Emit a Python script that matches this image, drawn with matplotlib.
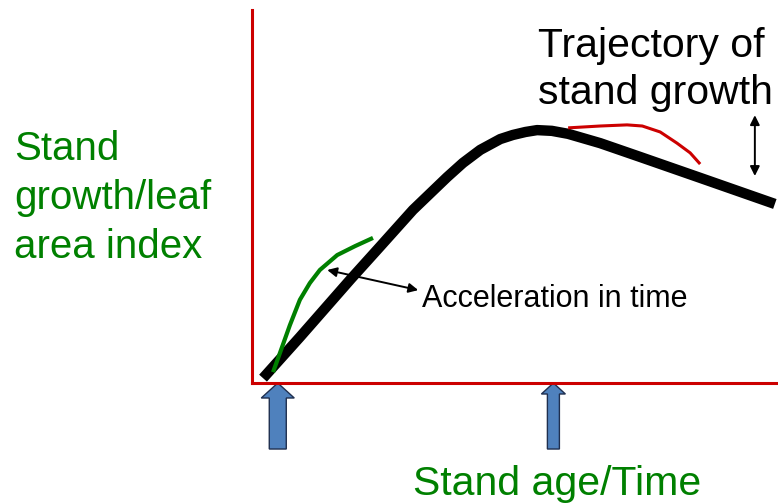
import numpy as np
import matplotlib
matplotlib.use("Agg")
import matplotlib.pyplot as plt
from matplotlib.patches import FancyArrow

plt.rcParams['font.family'] = ['Liberation Sans', 'DejaVu Sans']

# trajectory of stand growth (time, growth), axes run 0..100
growth_t = [2.1, 9.1, 18.8, 24.3, 30.6, 37.1, 40.1, 43.4, 47.2, 49.6, 52.0, 54.2, 57.0,
            60.1, 66.2, 73.8, 85.2, 99.4]
growth_y = [1.3, 12.3, 27.9, 36.5, 46.4, 55.2, 59.0, 62.5, 65.4, 66.5, 67.3, 67.8, 67.6,
            66.8, 64.3, 60.6, 55.0, 48.0]

# accelerated early growth (green)
accel_t = [4.0, 5.3, 7.2, 9.1, 11.0, 12.9, 16.2, 19.6, 23.0]
accel_y = [2.9, 8.0, 15.5, 22.3, 26.8, 30.3, 34.3, 36.7, 38.9]

# shifted late trajectory (red)
late_t = [60.1, 66.2, 71.3, 74.2, 77.6, 80.8, 83.3, 85.2]
late_y = [68.4, 68.9, 69.2, 68.9, 67.3, 64.3, 61.7, 58.7]

# time markers (blue arrows under the axis)
marker_t = [4.9, 57.3]

W, H = 778, 504
fig = plt.figure(figsize=(W / 100, H / 100), dpi=100)
ax = fig.add_axes([252 / W, (H - 383) / H, (W - 252) / W, (383 - 10) / H])
ax.set_xlim(0, 100)
ax.set_ylim(0, 100)
ax.set_xticks([])
ax.set_yticks([])
for s in ['top', 'right']:
    ax.spines[s].set_visible(False)
for s in ['left', 'bottom']:
    ax.spines[s].set_color('#CC0000')
    ax.spines[s].set_linewidth(2.2)

ax.plot(growth_t, growth_y, color='black', lw=7.5, solid_capstyle='butt', solid_joinstyle='round', clip_on=False)
ax.plot(accel_t, accel_y, color='#008000', lw=3, solid_capstyle='butt', solid_joinstyle='round')
ax.plot(late_t, late_y, color='#CC0000', lw=2.2, solid_capstyle='butt', solid_joinstyle='round')

# double arrows
ax.annotate('', xy=(14.3, 30.3), xytext=(31.6, 24.9),
            arrowprops=dict(arrowstyle='<|-|>', color='black', lw=1.4, mutation_scale=14, shrinkA=0, shrinkB=0))
ax.annotate('', xy=(95.6, 71.8), xytext=(95.6, 55.5),
            arrowprops=dict(arrowstyle='<|-|>', color='black', lw=1.4, mutation_scale=14, shrinkA=0, shrinkB=0))
ax.text(32.3, 22.6, 'Acceleration in time', fontsize=22, va='center', ha='left')

# block arrows under the time axis (x units: 5.26 px, y units: 3.73 px)
sizes = [(17, 33, 15), (12, 24, 11)]
for t, (bw, hw, hl) in zip(marker_t, sizes):
    arr = FancyArrow(t, -17.7, 0, 17.7, width=bw / 5.26, head_width=hw / 5.26,
                     head_length=hl / 3.73, length_includes_head=True,
                     facecolor='#4F81BD', edgecolor='#1F2F4F', lw=1.0, clip_on=False)
    ax.add_patch(arr)

fig.text(538 / W, 1 - 57 / H, 'Trajectory of', fontsize=29.5, ha='left', va='baseline')
fig.text(538 / W, 1 - 104 / H, 'stand growth', fontsize=29.5, ha='left', va='baseline')
for i, line in enumerate(['Stand', 'growth/leaf', 'area index']):
    fig.text(14 / W, 1 - (160 + 49 * i) / H, line, fontsize=29, color='#008000',
             ha='left', va='baseline')
fig.text(413 / W, 1 - 495 / H, 'Stand age/Time', fontsize=29.5, color='#008000',
         ha='left', va='baseline')

fig.savefig('out.png', dpi=100)
